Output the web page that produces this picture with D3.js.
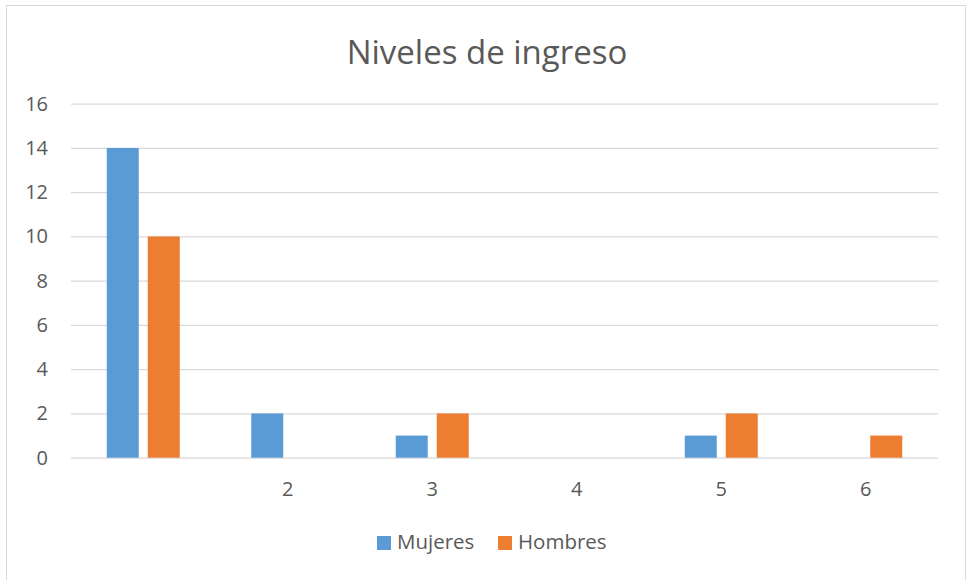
<!DOCTYPE html>
<html><head><meta charset="utf-8">
<script src="https://cdn.jsdelivr.net/npm/d3@7"></script>
<style>body{margin:0;background:#fff}svg{display:block}</style>
</head><body>
<svg id="c" width="967" height="580"></svg>
<script>
const categories = ["", "2", "3", "4", "5", "6"];
const seriesNames = ["Mujeres", "Hombres"];
const mujeres = [14, 2, 1, 0, 1, 0];
const hombres = [10, 0, 2, 0, 2, 1];
const yTicks = [0, 2, 4, 6, 8, 10, 12, 14, 16];
const colors = ["#5B9BD5", "#ED7D31"];

(function(){
const svg = d3.select("#c");
const font = "'Open Sans', 'Liberation Sans', sans-serif";
svg.append("rect").attr("x",6.5).attr("y",5.5).attr("width",959).attr("height",590)
  .attr("fill","#fff").attr("stroke","#D9D9D9");

const pl=71, pr=938, pt=103.7, pb=457.7;
const x = d3.scaleBand().domain(categories.map((c,i)=>i)).range([pl,pr]).paddingInner(0).paddingOuter(0);
const y = d3.scaleLinear().domain([0,16]).range([pb,pt]);
const bw = x.bandwidth();
const barW = 32, gap = 9;
const x1 = d3.scaleBand().domain([0,1]).range([(bw-2*barW-gap)/2,(bw+2*barW+gap)/2]).paddingInner(gap/(barW+gap)).paddingOuter(0);

svg.append("text").attr("x",487).attr("y",64).attr("text-anchor","middle")
  .attr("font-family",font).attr("font-size",33).attr("fill","#595959").text("Niveles de ingreso");

const yAxis = svg.append("g").attr("transform",`translate(${pl},0)`)
  .call(d3.axisLeft(y).tickValues(yTicks).tickSize(-(pr-pl)).tickPadding(23));
yAxis.select(".domain").remove();
yAxis.selectAll("line").attr("stroke","#D9D9D9").attr("stroke-width",1.3);
yAxis.selectAll("text").attr("font-family",font).attr("font-size",20).attr("fill","#595959");

const xAxis = svg.append("g").attr("transform",`translate(0,${pb})`)
  .call(d3.axisBottom(x).tickFormat(i=>categories[i]).tickSize(0).tickPadding(24));
xAxis.select(".domain").remove();
xAxis.selectAll("text").attr("font-family",font).attr("font-size",20).attr("fill","#595959");

const data = [mujeres, hombres];
data.forEach((vals,s)=>{
  svg.append("g").selectAll("rect").data(vals.map((v,i)=>({v,i}))).join("rect")
    .attr("x",d=>x(d.i)+x1(s)).attr("width",x1.bandwidth())
    .attr("y",d=>y(d.v)).attr("height",d=>pb-y(d.v))
    .attr("fill",colors[s]);
});

const leg = svg.append("g");
const legX = [377, 498];
seriesNames.forEach((n,s)=>{
  leg.append("rect").attr("x",legX[s]).attr("y",536).attr("width",14).attr("height",14).attr("fill",colors[s]);
  leg.append("text").attr("x",legX[s]+20).attr("y",549).attr("font-family",font).attr("font-size",20.5)
    .attr("fill","#595959").text(n);
});
})();
</script>
</body></html>
